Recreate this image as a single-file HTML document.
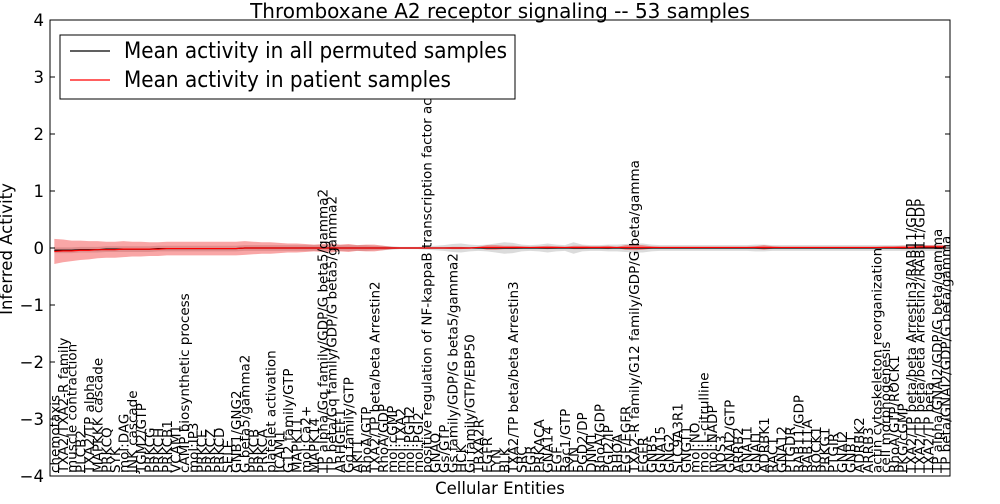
<!DOCTYPE html>
<html><head><meta charset="utf-8"><style>
body{margin:0;background:#fff;width:1000px;height:500px;overflow:hidden;font-family:"DejaVu Sans",sans-serif}
svg text{font-family:"DejaVu Sans","Liberation Sans",sans-serif}
</style></head><body>
<svg id="chart" width="1000" height="500">
<text x="500" y="18" text-anchor="middle" font-size="20">Thromboxane A2 receptor signaling -- 53 samples</text>
<text x="500" y="494" text-anchor="middle" font-size="16.5">Cellular Entities</text>
<text transform="translate(12,249) rotate(-90)" text-anchor="middle" font-size="16.5">Inferred Activity</text>
<g id="bands"></g><g id="lines"></g><g id="labels"></g><g id="axes"></g>
<g>
<rect x="60" y="35" width="455" height="64" fill="#fff" stroke="#000" stroke-width="1"/>
<line x1="70" y1="51" x2="110" y2="51" stroke="#000" stroke-width="1.2"/>
<text x="124" y="58" font-size="22" textLength="383" lengthAdjust="spacingAndGlyphs">Mean activity in all permuted samples</text>
<line x1="70" y1="80" x2="110" y2="80" stroke="#f00" stroke-width="1.2"/>
<text x="124" y="87" font-size="22" textLength="327" lengthAdjust="spacingAndGlyphs">Mean activity in patient samples</text>
</g>
</svg>
<script>
const categories=["chemotaxis","TXA2/TXA2-R family","muscle contraction","PLCB2","TXA2/TP alpha","MAPKKK cascade","PRKCQ","SYK","mol:DAG","JNK cascade","TGM2/GTP","PRKCG","PRKCH","PRKCB1","VCAM1","cAMP biosynthetic process","mol:IP3","PRKCE","PRKCZ","PRKCD","SELE","GNB1/GNG2","G beta5/gamma2","PRKCB","PRKCA","platelet activation","ICAM1","G12 family/GTP","MAPK11","mol:Ca2+","MAPK14","TP alpha/Gq family/GDP/G beta5/gamma2","TP beta/Gq family/GDP/G beta5/gamma2","ARHGEF1","Gq family/GTP","AKT1","RhoA/GTP","TXA2/TP beta/beta Arrestin2","RhoA/GDP","mol:cGMP","mol:TXA2","mol:PGH2","mol:PGI2","positive regulation of NF-kappaB transcription factor activity","GNAQ","Gs/GTP","Gs family/GDP/G beta5/gamma2","HCK","Gi family/GTP/EBP50","TBXA2R","EGFR","LYN","BLK","TXA2/TP beta/beta Arrestin3","SRC","FGR","PRKACA","GNA14","EGF","Rac1/GTP","FYN","PGD2/DP","DNM1","RhoA/GDP","PGI2/IP","RHOA","EGF/EGFR","TXA2-R family/G12 family/GDP/G beta/gamma","EGFR","GNB5","GNA15","GNG2","SLC9A3R1","GNGT1","mol:NO","mol:L-citrulline","mol:NADP","NOS3","GNAI2/GTP","ARRB2","GNA11","GNAI1","ADRBK1","RAC1","GNA12","PTGDR","RAB11/GDP","RAB11A","ROCK1","PRKG1","PTGIR","GNAI2","GNB1","ADRBK2","ARRB3","actin cytoskeleton reorganization","cell morphogenesis","RhoA/GTP/ROCK1","PKG/cGMP","TXA2/TP beta/beta Arrestin3/RAB11/GDP","TXA2/TP beta/beta Arrestin2/RAB11/GDP","TXA2/TP beta","TP alpha/GNAI2/GDP/G beta/gamma","TP beta/GNAI2/GDP/G beta/gamma"];
const patientMean=[-0.06,-0.05,-0.05,-0.04,-0.04,-0.03,-0.03,-0.03,-0.02,-0.02,-0.02,-0.02,-0.02,-0.01,-0.01,-0.01,-0.01,-0.01,-0.01,-0.01,-0.01,-0.01,0,0,0,0,0,0,0,0,0,0,0,0,0,0,0,0,0,0,0,0,0,0,0,0,0,0,0,0.01,0.01,0.01,0.01,0.01,0.01,0.01,0.01,0.01,0.01,0.01,0.01,0.01,0.01,0.01,0.01,0.01,0.01,0.01,0.01,0.01,0.01,0.01,0.01,0.01,0.01,0.01,0.01,0.01,0.01,0.01,0.01,0.01,0.01,0.01,0.01,0.01,0.01,0.01,0.01,0.01,0.01,0.01,0.01,0.01,0.01,0.01,0.01,0.01,0.01,0.01,0.02,0.02,0.02,0.02];
const patientSd=[0.22,0.2,0.18,0.17,0.16,0.15,0.14,0.14,0.14,0.13,0.13,0.12,0.12,0.12,0.12,0.12,0.12,0.12,0.12,0.12,0.12,0.12,0.12,0.11,0.1,0.1,0.09,0.08,0.08,0.07,0.06,0.07,0.08,0.06,0.07,0.05,0.06,0.06,0.04,0.02,0.01,0.01,0.01,0.01,0.01,0.01,0.02,0.02,0.01,0.01,0.04,0.04,0.03,0.03,0.02,0.01,0.02,0.03,0.02,0.01,0.03,0.03,0.02,0.02,0.03,0.01,0.04,0.05,0.04,0.02,0.01,0.01,0.01,0.01,0.01,0.01,0.01,0.01,0.01,0.01,0.01,0.02,0.04,0.02,0.01,0.01,0.01,0.01,0.01,0.01,0.01,0.01,0.01,0.01,0.01,0.01,0.02,0.02,0.03,0.03,0.03,0.03,0.03,0.03];
const permMean=[-0.04,-0.04,-0.04,-0.03,-0.03,-0.03,-0.02,-0.02,-0.02,-0.02,-0.02,-0.02,-0.01,-0.01,-0.01,-0.01,-0.01,-0.01,-0.01,-0.01,-0.01,-0.01,0,0,0,0,0,0,0,0,0,0,0,0,0,0,0,0,0,0,0,0,0,0,0,0,0,0,0,0,0,0,0,0,0,0,0,0,0,0,0,0,0,0,0,0,0,0,0,0,0,0,0,0,0,0,0,0,0,0,0,0,0,0,0,0,0,0,0,0,0,0,0,0,0,0,0,0,0,0,0,0,0,0];
const permSd=[0.05,0.05,0.05,0.05,0.05,0.05,0.05,0.05,0.05,0.05,0.05,0.05,0.05,0.05,0.05,0.05,0.05,0.05,0.05,0.05,0.05,0.05,0.05,0.05,0.05,0.05,0.05,0.05,0.05,0.05,0.05,0.05,0.05,0.05,0.05,0.05,0.05,0.04,0.04,0.03,0.02,0.02,0.02,0.03,0.04,0.05,0.07,0.08,0.06,0.05,0.06,0.08,0.1,0.09,0.06,0.05,0.06,0.08,0.06,0.05,0.1,0.06,0.05,0.05,0.06,0.06,0.07,0.08,0.08,0.06,0.05,0.05,0.05,0.05,0.05,0.05,0.05,0.05,0.05,0.05,0.05,0.06,0.06,0.05,0.05,0.05,0.05,0.05,0.05,0.05,0.05,0.05,0.05,0.05,0.05,0.05,0.05,0.05,0.05,0.05,0.05,0.05,0.05,0.05];
const yTicks=[-4,-3,-2,-1,0,1,2,3,4];
const yTickLabels=["\u22124","\u22123","\u22122","\u22121","0","1","2","3","4"];

const X0=50,X1=950,Y0=20,Y1=476,ns="http://www.w3.org/2000/svg";
const n=categories.length;
const xs=i=>X0+(i+0.5)*(X1-X0)/n;
const ys=v=>Y1-(v+4)/8*(Y1-Y0);
function mk(tag,attrs,parent){const e=document.createElementNS(ns,tag);for(const k in attrs)e.setAttribute(k,attrs[k]);parent.appendChild(e);return e;}
function band(mean,sd,fill,op,name){
  let d="M";for(let i=0;i<n;i++)d+=xs(i)+","+ys(mean[i]+sd[i])+" L";
  for(let i=n-1;i>=0;i--)d+=xs(i)+","+ys(mean[i]-sd[i])+(i?" L":" Z");
  const p=mk("path",{d:d,fill:fill,"fill-opacity":op,stroke:"none"},document.getElementById("bands"));
  
  
}
function line(mean,col,name){
  const pts=mean.map((v,i)=>xs(i)+","+ys(v)).join(" ");
  const p=mk("polyline",{points:pts,fill:"none",stroke:col,"stroke-width":1.2},document.getElementById("lines"));
  
  
}
band(permMean,permSd,"#888",0.3,"permuted-band");
band(patientMean,patientSd,"#e00",0.35,"patient-band");
line(permMean,"#000","permuted-mean-line");
line(patientMean,"#f00","patient-mean-line");
const lab=document.getElementById("labels");
categories.forEach((c,i)=>{
  const t=mk("text",{transform:`translate(${xs(i)+5},473) rotate(-90)`,"font-size":13.5},lab);
  t.textContent=c;
  
  
});
const ax=document.getElementById("axes");
const fr=mk("rect",{x:X0,y:Y0,width:X1-X0,height:Y1-Y0,fill:"none",stroke:"#000","stroke-width":1},ax);


yTicks.forEach((v,i)=>{
  mk("line",{x1:X0,x2:X0+5,y1:ys(v),y2:ys(v),stroke:"#000"},ax);
  mk("line",{x1:X1-5,x2:X1,y1:ys(v),y2:ys(v),stroke:"#000"},ax);
  const t=mk("text",{x:X0-6,y:ys(v)+6,"text-anchor":"end","font-size":16.5},ax);
  t.textContent=yTickLabels[i];
  
  
});
</script>
</body></html>
